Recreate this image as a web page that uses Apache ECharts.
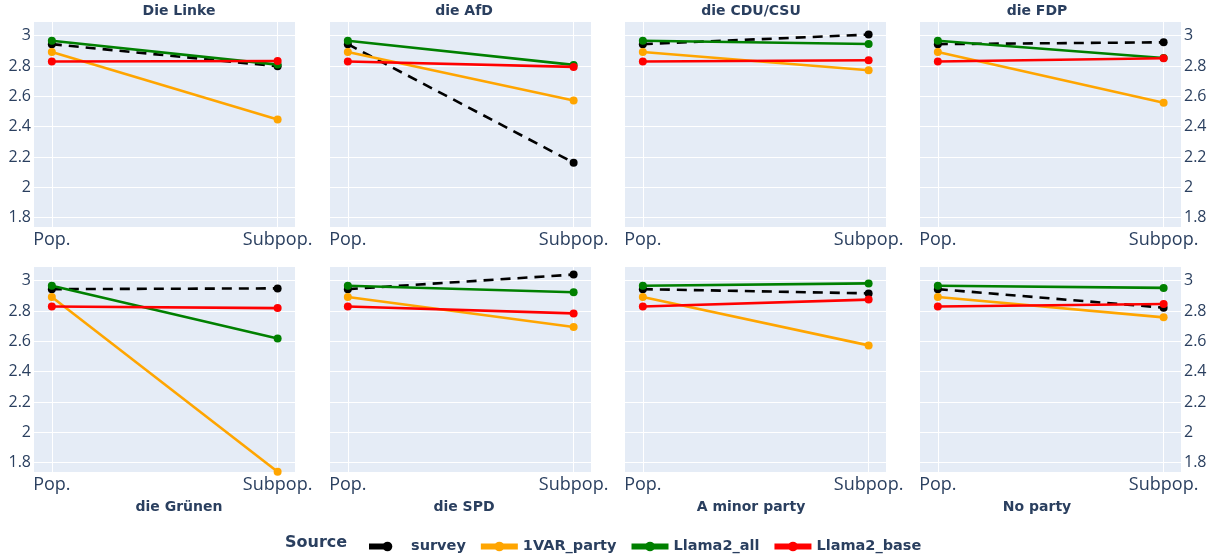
<!DOCTYPE html>
<html><head><meta charset="utf-8">
<script src="https://cdn.jsdelivr.net/npm/echarts@6/dist/echarts.min.js"></script>
<style>html,body{margin:0;padding:0;background:#fff}#c{width:1217px;height:558px}</style>
</head><body><div id="c"></div>
<script>
const categories = ['Pop.', 'Subpop.'];
const parties = ['Die Linke', 'die AfD', 'die CDU/CSU', 'die FDP', 'die Grünen', 'die SPD', 'A minor party', 'No party'];
const sources = ['survey', '1VAR_party', 'Llama2_all', 'Llama2_base'];
// population values (same in every panel), order as sources
const popValues = [2.944, 2.892, 2.966, 2.829];
// subpopulation values per party
const surveySub = [2.798, 2.162, 3.007, 2.956, 2.949, 3.040, 2.916, 2.822];
const var1Sub   = [2.447, 2.572, 2.772, 2.557, 1.740, 2.694, 2.573, 2.758];
const allSub    = [2.809, 2.807, 2.945, 2.853, 2.619, 2.923, 2.982, 2.952];
const baseSub   = [2.833, 2.794, 2.838, 2.851, 2.819, 2.784, 2.875, 2.846];
const yTicks = [1.8, 2, 2.2, 2.4, 2.6, 2.8, 3];

const subBySource = [surveySub, var1Sub, allSub, baseSub];
const colors = ['#000000', '#FFA500', '#008000', '#FF0000'];
const FONT = '"Open Sans", verdana, arial, sans-serif';
const BFONT = '"DejaVu Sans", verdana, sans-serif';
const TXT = '#2a3f5f';

const colLeft = [34, 330, 625, 920];
const rowTop = [22, 267];
const W = 261, H = 205;
const titleX = [179, 464, 751, 1037];
const titleTop = [4, 500];

const grids = [], xAxes = [], yAxes = [], series = [], titles = [];
parties.forEach((p, i) => {
  const r = Math.floor(i / 4), c = i % 4;
  grids.push({left: colLeft[c], top: rowTop[r], width: W, height: H,
    show: true, backgroundColor: '#E5ECF6', borderWidth: 0, containLabel: false});
  xAxes.push({type: 'value', gridIndex: i, min: -0.079, max: 1.077,
    axisLine: {show: false},
    axisTick: {show: false, customValues: [0, 1]},
    axisLabel: {customValues: [0, 1], formatter: v => categories[Math.round(v)],
      fontSize: 18, color: TXT, fontFamily: FONT, margin: 4},
    splitLine: {show: true, lineStyle: {color: '#ffffff', width: 1}}});
  yAxes.push({type: 'value', gridIndex: i, min: 1.738, max: 3.09,
    position: c === 3 ? 'right' : 'left',
    axisLine: {show: false},
    axisTick: {show: false, customValues: yTicks},
    axisLabel: {show: c === 0 || c === 3, customValues: yTicks,
      fontSize: 16, color: TXT, fontFamily: FONT, margin: 3},
    splitLine: {show: true, lineStyle: {color: '#ffffff', width: 1}}});
  titles.push({text: p, left: titleX[c], top: titleTop[r], textAlign: 'center', padding: 0,
    textStyle: {fontSize: 14, fontWeight: 'bold', color: TXT, fontFamily: BFONT}});
  sources.forEach((s, k) => {
    series.push({
      name: s, type: 'line', xAxisIndex: i, yAxisIndex: i,
      data: [[0, popValues[k]], [1, subBySource[k][i]]],
      symbol: 'circle', symbolSize: 8, showSymbol: true,
      itemStyle: {color: colors[k]},
      lineStyle: {color: colors[k], width: 2.6, type: k === 0 ? [10, 7] : 'solid'},
      emphasis: {disabled: true}, animation: false, z: 2 + k
    });
  });
});
titles.push({text: 'Source', left: 285, top: 535, padding: 0,
  textStyle: {fontSize: 16, fontWeight: 'bold', color: TXT, fontFamily: BFONT}});

const legendData = sources.map((s, k) => k === 0
  ? {name: s, lineStyle: {type: [15, 40], width: 6}}
  : {name: s});

const chart = echarts.init(document.getElementById('c'), null, {renderer: 'canvas'});
chart.setOption({
  animation: false,
  backgroundColor: '#ffffff',
  title: titles,
  grid: grids, xAxis: xAxes, yAxis: yAxes, series: series,
  legend: {data: legendData, left: 366, top: 539, padding: 0, itemWidth: 37, itemHeight: 12, itemGap: 12,
    lineStyle: {width: 6},
    textStyle: {fontSize: 14.5, fontWeight: 'bold', color: TXT, fontFamily: BFONT}}
});
</script></body></html>
